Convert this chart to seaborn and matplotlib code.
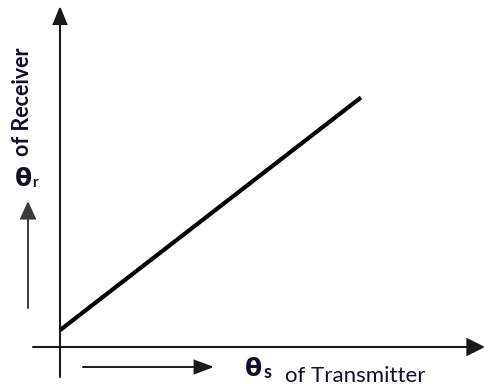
import matplotlib
matplotlib.use('Agg')
import matplotlib.pyplot as plt
import seaborn as sns

# ── Data ──────────────────────────────────────────────────────
theta_s = [0.0, 10.0]     # transmitter angle
theta_r = [0.56, 8.29]    # receiver angle

# ── Canvas ────────────────────────────────────────────────────
W, H = 484, 391
PX = 30.1   # pixels per unit, same on both axes
X0, Y0 = 60, 347   # origin in pixels (from top-left)

sns.set_style('white')
plt.rcParams['font.family'] = ['Lato', 'DejaVu Sans']
GREEK = ['Liberation Sans Narrow', 'DejaVu Sans']

fig = plt.figure(figsize=(W / 100, H / 100), dpi=100)
ax = fig.add_axes([0, 0, 1, 1])
ax.set_xlim(-X0 / PX, (W - X0) / PX)
ax.set_ylim(-(H - Y0) / PX, Y0 / PX)
ax.axis('off')


def fpos(x, y):
    """pixel position (top-left origin) -> figure fraction"""
    return (x / W, 1 - y / H)


def arrow(tail, tip, lw, color, hl, hw):
    ax.annotate('', xy=fpos(*tip), xytext=fpos(*tail),
                xycoords='figure fraction', textcoords='figure fraction',
                arrowprops=dict(arrowstyle=f'-|>,head_length={hl},head_width={hw}',
                                lw=lw, color=color, mutation_scale=10,
                                shrinkA=0, shrinkB=0, joinstyle='miter'))


# axes with arrows
arrow((X0, 377), (X0, 6), 1.5, '#1a1a1a', 1.1, 0.45)
arrow((33, Y0), (485, Y0), 1.5, '#1a1a1a', 1.1, 0.55)

# direction arrows next to the labels
arrow((28, 308), (28, 201), 1.4, '#3a3a3a', 1.1, 0.5)
arrow((83, 367), (214, 367), 1.4, '#1a1a1a', 1.2, 0.45)

# the characteristic line
sns.lineplot(x=theta_s, y=theta_r, color='black', lw=3.0, ax=ax,
             solid_capstyle='butt')

# labels
txt = '#10102a'
fig.text(*fpos(24, 179), 'θ', fontsize=18, fontweight='bold', color=txt,
         family=GREEK, ha='center', va='center')
fig.text(*fpos(35, 183), 'r', fontsize=11, fontweight='bold', color=txt,
         ha='center', va='center')
fig.text(*fpos(23, 102), 'of Receiver', fontsize=15.5, fontweight='bold',
         color=txt, rotation=90, ha='center', va='center')

fig.text(*fpos(254, 369), 'θ', fontsize=18, fontweight='bold', color=txt,
         family=GREEK, ha='center', va='center')
fig.text(*fpos(268, 373), 's', fontsize=13, fontweight='bold', color=txt,
         ha='center', va='center')
fig.text(*fpos(285, 376), 'of Transmitter', fontsize=16, color=txt,
         ha='left', va='center')

fig.savefig('out.png', dpi=100)
